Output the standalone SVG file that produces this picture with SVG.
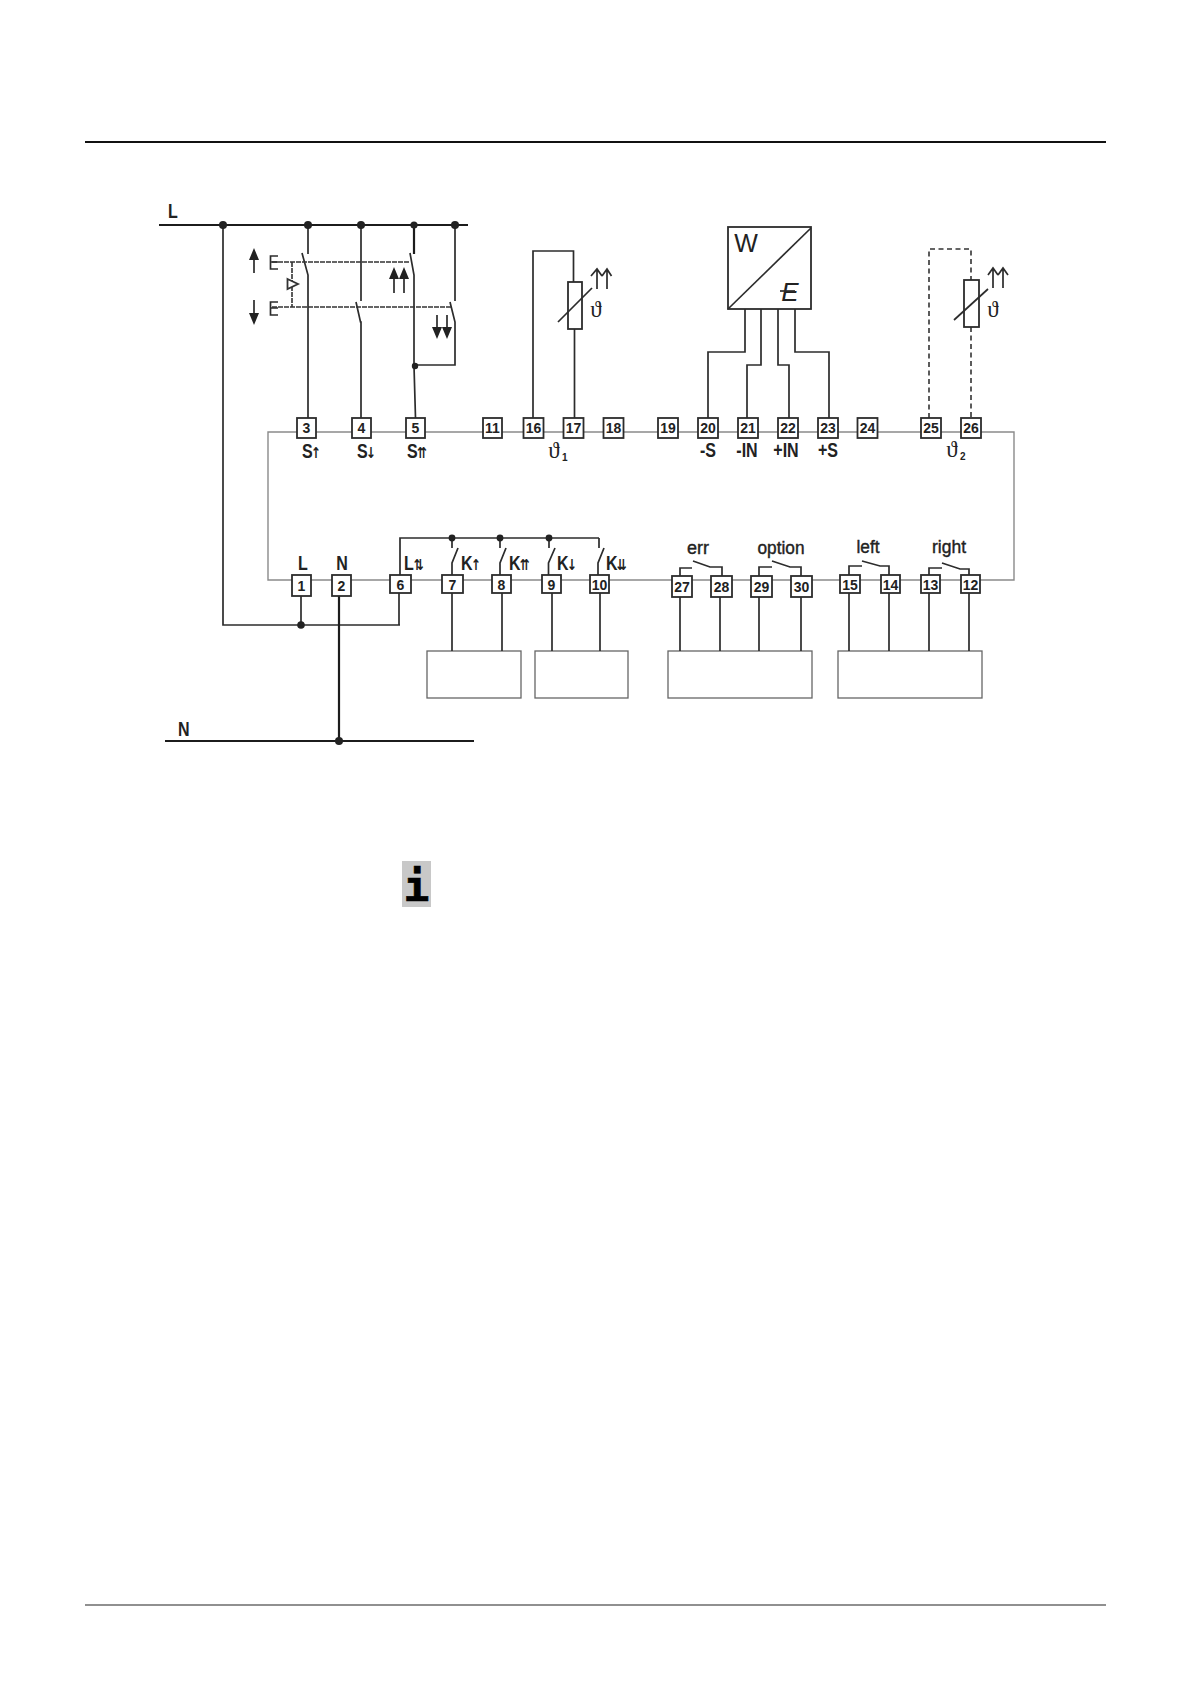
<svg xmlns="http://www.w3.org/2000/svg" width="1191" height="1684" viewBox="0 0 1191 1684">
<defs>
<style>
text{font-family:"Liberation Sans",Arial,sans-serif;fill:#222}
.w{fill:none;stroke:#2c2c2c;stroke-width:1.7}
.b{fill:none;stroke:#1c1c1c;stroke-width:2.2}
.d{fill:none;stroke:#333;stroke-width:1.6;stroke-dasharray:5 3.5}
.f{fill:none;stroke:#333;stroke-width:1.6;stroke-dasharray:5 1}
.g{fill:none;stroke:#8a8a8a;stroke-width:1.4}
.o{fill:#fff;stroke:#666;stroke-width:1.3}
.dot{fill:#222}
.arr{fill:#222;stroke:none}
.s{fill:#fff;stroke:#2c2c2c;stroke-width:1.8}
.t rect{fill:#fff;stroke:#2c2c2c;stroke-width:1.8}
.t text{font-weight:700;font-size:14px;text-anchor:middle}
.lb{font-weight:700;font-size:20px}
.ar{font-family:"DejaVu Sans",sans-serif;font-size:15px;font-weight:700}
.c{font-size:18px;text-anchor:middle;stroke:#222;stroke-width:.4}
.th{font-family:"Liberation Serif","DejaVu Serif",serif;font-size:23px;text-anchor:middle}
.sub{font-size:10px;font-weight:700}
</style>
</defs>
<rect width="1191" height="1684" fill="#fff"/>
<g id="page-rules">
<line x1="85" y1="142" x2="1106" y2="142" stroke="#111" stroke-width="2.2"/>
<line x1="85" y1="1605" x2="1106" y2="1605" stroke="#222" stroke-width="1.2"/>
</g>
<g id="device-outline">
<path class="g" d="M297 432H268V580H1014V432H297"/>
</g>
<g id="boxes">
<rect class="o" x="427" y="651" width="94" height="47"/>
<rect class="o" x="535" y="651" width="93" height="47"/>
<rect class="o" x="668" y="651" width="144" height="47"/>
<rect class="o" x="838" y="651" width="144" height="47"/>
</g>
<g id="connectors">
<path class="b" d="M159 225H468"/>
<path class="b" d="M165 741H474"/>
<path class="w" d="M223 225V625H400"/>
<path class="w" d="M301 596V625"/>
<path class="b" d="M339 596V741"/>
<path class="w" d="M399 593V625"/>
<path class="w" d="M308 225V254M302 253L308 275V418"/>
<path class="w" d="M361 225V301M356 302L360.500 322H361V418"/>
<path class="b" d="M414 225V254"/>
<path class="w" d="M410 253L414 275V366L415.500 418"/>
<path class="w" d="M455 225V301M450 302L455 322V365H415"/>
<path class="f" d="M272 262H410M272 307H451M292 262V307"/>
<path class="w" d="M533 418V251H573.500V282M574.500 329V418"/>
<path class="w" d="M745 309V352H708V418M761 309V365H747V418M778 309V365H789V418M795 309V352H829V418"/>
<path class="d" d="M929 418V249H971V280M971 327V418"/>
<path class="w" d="M400 575V538H599"/>
<path class="w" d="M452 538V548M458 548L452 563V575"/>
<path class="w" d="M500 538V548M506 548L500 563V575"/>
<path class="w" d="M549 538V548M555 548L548.500 563V575"/>
<path class="w" d="M599 538V548M604 548L598 563V575"/>
<path class="w" d="M452 593V651M502 593V651M552 593V651M600 593V651"/>
<path class="w" d="M680 597V651M720 597V651M759 597V651M801 597V651"/>
<path class="w" d="M849 593V651M889 593V651M929 593V651M969 593V651"/>
<path class="w" d="M680 576V568H692M693 561L710 567H722V576"/>
<path class="w" d="M759 576V567H772M772 561L790 567H801V576"/>
<path class="w" d="M849 575V566H862M862 561L880 566H889V575"/>
<path class="w" d="M929 575V568H942M942 563L960 569H969V575"/>
</g>
<g id="junctions" class="dot">
<circle cx="223" cy="225" r="4"/><circle cx="308" cy="225" r="4"/><circle cx="361" cy="225" r="4"/><circle cx="414" cy="225" r="3.600"/><circle cx="455" cy="225" r="4"/>
<circle cx="415" cy="366" r="3.200"/><circle cx="301" cy="625" r="3.800"/><circle cx="339" cy="741" r="4"/>
<circle cx="452" cy="538" r="3.400"/><circle cx="500" cy="538" r="3.400"/><circle cx="549" cy="538" r="3.400"/>
</g>
<g id="bus-labels">
<text class="lb" transform="translate(168,218) scale(.8,1)">L</text>
<text class="lb" transform="translate(178,736) scale(.8,1)">N</text>
</g>
<g id="relay">
<path class="w" d="M254 273V258M254 300V314"/>
<path class="arr" d="M254 248l5 12h-10zM254 325l5 -12h-10z"/>
<path class="w" d="M278 256H270.500V269H278M278 262H271M278 302H270.500V315H278M278 308H271"/>
<path d="M287.500 279L298 284L287.500 289z" fill="#fff" stroke="#333" stroke-width="1.8"/>
<path class="w" d="M394 293V276M404 293V276M437 315V330M447 315V330"/>
<path class="arr" d="M394 267l5 12h-10zM404 267l5 12h-10zM437 339l5 -12h-10zM447 339l5 -12h-10z"/>
</g>
<g id="sensor1">
<rect class="s" x="568" y="282" width="14" height="47"/>
<path class="w" d="M558 322L592 288"/>
<path class="w" d="M597 289V270M591 276L597 269L602 276M607 289V270M602 276L607 269L611.500 276"/>
<text class="th" x="596" y="317">ϑ</text>
<text class="th" x="554" y="458">ϑ</text><text class="sub" x="562" y="461">1</text>
</g>
<g id="converter">
<rect class="s" x="728" y="227" width="83" height="82"/>
<path class="w" d="M728 309L811 228"/>
<text x="746" y="252" font-size="25" text-anchor="middle">W</text>
<text x="790" y="301" font-size="26" font-style="italic" text-anchor="middle">E</text>
<path class="w" d="M780 291H795"/>
</g>
<g id="sensor2">
<rect class="s" x="964" y="280" width="15" height="47"/>
<path class="w" d="M954 320L988 289"/>
<path class="w" d="M993 288V269M988 275L993 268L998 275M1003 288V269M998 275L1003 268L1008 275"/>
<text class="th" x="993" y="317">ϑ</text>
<text class="th" x="952" y="457">ϑ</text><text class="sub" x="960" y="460">2</text>
</g>
<g id="terminal-labels">
<text class="lb" transform="translate(302,458) scale(.8,1)">S<tspan class="ar" dx="-2">↑</tspan></text>
<text class="lb" transform="translate(357,458) scale(.8,1)">S<tspan class="ar" dx="-2">↓</tspan></text>
<text class="lb" transform="translate(407,458) scale(.8,1)">S<tspan class="ar" dx="-1">⇈</tspan></text>
<text class="lb" text-anchor="middle" transform="translate(708,457) scale(.8,1)">-S</text>
<text class="lb" text-anchor="middle" transform="translate(747,457) scale(.8,1)">-IN</text>
<text class="lb" text-anchor="middle" transform="translate(786,457) scale(.8,1)">+IN</text>
<text class="lb" text-anchor="middle" transform="translate(828,457) scale(.8,1)">+S</text>
<text class="lb" text-anchor="middle" transform="translate(303,570) scale(.8,1)">L</text>
<text class="lb" text-anchor="middle" transform="translate(342,570) scale(.8,1)">N</text>
<text class="lb" transform="translate(404,570) scale(.8,1)">L<tspan class="ar" dx="0">⇅</tspan></text>
<text class="lb" transform="translate(461,570) scale(.8,1)">K<tspan class="ar" dx="-2">↑</tspan></text>
<text class="lb" transform="translate(509,570) scale(.8,1)">K<tspan class="ar" dx="-1">⇈</tspan></text>
<text class="lb" transform="translate(557,570) scale(.8,1)">K<tspan class="ar" dx="-2">↓</tspan></text>
<text class="lb" transform="translate(606,570) scale(.8,1)">K<tspan class="ar" dx="-1">⇊</tspan></text>
<text class="c" x="698" y="554" textLength="22" lengthAdjust="spacingAndGlyphs">err</text>
<text class="c" x="781" y="554" textLength="47" lengthAdjust="spacingAndGlyphs">option</text>
<text class="c" x="868" y="553" textLength="23" lengthAdjust="spacingAndGlyphs">left</text>
<text class="c" x="949" y="553" textLength="34" lengthAdjust="spacingAndGlyphs">right</text>
</g>
<g id="terminals" class="t">
<g id="t3"><rect x="297" y="418" width="19" height="20"/><text x="306.500" y="433">3</text></g>
<g id="t4"><rect x="352" y="418" width="19" height="20"/><text x="361.500" y="433">4</text></g>
<g id="t5"><rect x="406" y="418" width="19" height="20"/><text x="415.500" y="433">5</text></g>
<g id="t11"><rect x="483" y="418" width="19" height="20"/><text x="492.500" y="433">11</text></g>
<g id="t16"><rect x="523.500" y="418" width="20" height="20"/><text x="533.500" y="433">16</text></g>
<g id="t17"><rect x="563.500" y="418" width="20" height="20"/><text x="573.500" y="433">17</text></g>
<g id="t18"><rect x="603.500" y="418" width="20" height="20"/><text x="613.500" y="433">18</text></g>
<g id="t19"><rect x="658" y="418" width="20" height="20"/><text x="668" y="433">19</text></g>
<g id="t20"><rect x="698" y="418" width="20" height="20"/><text x="708" y="433">20</text></g>
<g id="t21"><rect x="738" y="418" width="20" height="20"/><text x="748" y="433">21</text></g>
<g id="t22"><rect x="778" y="418" width="20" height="20"/><text x="788" y="433">22</text></g>
<g id="t23"><rect x="818" y="418" width="20" height="20"/><text x="828" y="433">23</text></g>
<g id="t24"><rect x="857.500" y="418" width="20" height="20"/><text x="867.500" y="433">24</text></g>
<g id="t25"><rect x="921" y="418" width="20" height="20"/><text x="931" y="433">25</text></g>
<g id="t26"><rect x="961" y="418" width="20" height="20"/><text x="971" y="433">26</text></g>
<g id="t1"><rect x="292" y="575" width="19" height="21"/><text x="301.500" y="591">1</text></g>
<g id="t2"><rect x="332" y="575" width="19" height="21"/><text x="341.500" y="591">2</text></g>
<g id="t6"><rect x="390" y="575" width="21" height="18"/><text x="400.500" y="589.500">6</text></g>
<g id="t7"><rect x="442" y="575" width="21" height="18"/><text x="452.500" y="589.500">7</text></g>
<g id="t8"><rect x="492" y="575" width="19" height="18"/><text x="501.500" y="589.500">8</text></g>
<g id="t9"><rect x="542" y="575" width="19" height="18"/><text x="551.500" y="589.500">9</text></g>
<g id="t10"><rect x="590" y="575" width="19" height="18"/><text x="599.500" y="589.500">10</text></g>
<g id="t27"><rect x="672" y="576" width="20" height="21"/><text x="682" y="591.500">27</text></g>
<g id="t28"><rect x="711" y="576" width="21" height="21"/><text x="721.500" y="591.500">28</text></g>
<g id="t29"><rect x="751" y="576" width="21" height="21"/><text x="761.500" y="591.500">29</text></g>
<g id="t30"><rect x="791" y="576" width="21" height="21"/><text x="801.500" y="591.500">30</text></g>
<g id="t15"><rect x="840" y="575" width="20" height="18"/><text x="850" y="589.500">15</text></g>
<g id="t14"><rect x="881" y="575" width="19" height="18"/><text x="890.500" y="589.500">14</text></g>
<g id="t13"><rect x="921" y="575" width="19" height="18"/><text x="930.500" y="589.500">13</text></g>
<g id="t12"><rect x="961" y="575" width="19" height="18"/><text x="970.500" y="589.500">12</text></g>
</g>
<g id="info-icon">
<rect x="402" y="861" width="29" height="46" fill="#c8c8c8"/>
<text x="416.500" y="901" font-size="43" font-weight="700" text-anchor="middle" stroke="#000" stroke-width=".6" style="font-family:'DejaVu Sans Mono',monospace;fill:#000">i</text>
</g>
</svg>
